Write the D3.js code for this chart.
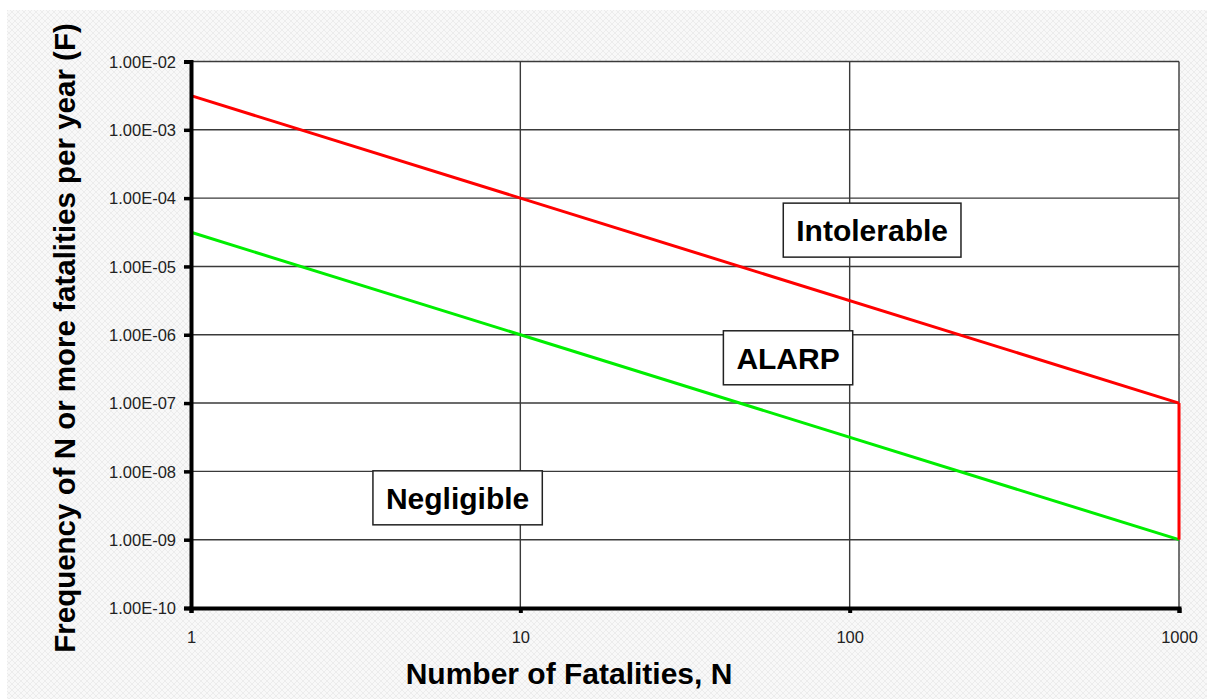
<!DOCTYPE html>
<html>
<head>
<meta charset="utf-8">
<script src="https://cdn.jsdelivr.net/npm/d3@7"></script>
<style>
  body { margin: 0; background: #fff; }
  svg { display: block; }
</style>
</head>
<body>
<div id="vis"></div>
<script>
/* data */
let xTicks = [1, 10, 100, 1000];
let yTicks = [1e-2, 1e-3, 1e-4, 1e-5, 1e-6, 1e-7, 1e-8, 1e-9, 1e-10];
let intolerable = [[1, 3.16e-3], [1000, 1e-7]];
let negligible = [[1, 3.16e-5], [1000, 1e-9]];
let endCap = [[1000, 1e-7], [1000, 1e-9]];
let regionLabels = [
  { text: "Intolerable", n: 117,  f: 3.4e-5 },
  { text: "ALARP",       n: 65,   f: 4.6e-7 },
  { text: "Negligible",  n: 6.45, f: 4.1e-9 },
];

/* geometry */
let width = 1207, height = 699;
let boundsX = [191, 1179];
let boundsY = [61.5, 608];
let font = "'Liberation Sans', Arial, sans-serif";

let x = d3.scaleLog().domain([1, 1000]).range(boundsX);
let y = d3.scaleLog().domain([1e-10, 1e-2]).range([boundsY[1], boundsY[0]]);

let svg = d3.select("#vis").append("svg")
  .attr("width", width)
  .attr("height", height);

/* crosshatch background */
let pat = svg.append("defs").append("pattern")
  .attr("id", "hatch")
  .attr("patternUnits", "userSpaceOnUse")
  .attr("width", 6).attr("height", 6);
pat.append("rect").attr("width", 6).attr("height", 6).attr("fill", "#f8f8f8");
pat.append("path")
  .attr("d", "M0,0L6,6M6,0L0,6")
  .attr("stroke", "#ececec")
  .attr("stroke-width", 1);

svg.append("rect")
  .attr("x", 7).attr("y", 10)
  .attr("width", width - 7).attr("height", height - 10)
  .attr("fill", "url(#hatch)");

/* plot area */
svg.append("rect")
  .attr("x", boundsX[0]).attr("y", boundsY[0])
  .attr("width", boundsX[1] - boundsX[0])
  .attr("height", boundsY[1] - boundsY[0])
  .attr("fill", "#fff");

/* grid */
let grid = svg.append("g")
  .attr("stroke", "#3a3a3a")
  .attr("stroke-width", 1.4);
yTicks.forEach(v => {
  grid.append("line")
    .attr("x1", boundsX[0]).attr("x2", boundsX[1])
    .attr("y1", y(v)).attr("y2", y(v));
});
xTicks.forEach(v => {
  grid.append("line")
    .attr("x1", x(v)).attr("x2", x(v))
    .attr("y1", boundsY[0]).attr("y2", boundsY[1]);
});

/* lines */
let line = d3.line().x(d => x(d[0])).y(d => y(d[1]));
svg.append("path")
  .attr("d", line(negligible))
  .attr("stroke", "#00ee00").attr("stroke-width", 3).attr("fill", "none");
svg.append("path")
  .attr("d", line(intolerable))
  .attr("stroke", "#ff0000").attr("stroke-width", 3).attr("fill", "none");
svg.append("path")
  .attr("d", line(endCap))
  .attr("stroke", "#ff0000").attr("stroke-width", 3).attr("fill", "none");

/* axes */
let yAxis = svg.append("g")
  .attr("transform", "translate(" + boundsX[0] + ",0)")
  .call(d3.axisLeft(y).tickValues(yTicks).tickSize(7).tickPadding(8)
    .tickFormat(v => v.toExponential(2).replace(/e([+-])(\d)$/, "e$10$2").toUpperCase()));
yAxis.select(".domain").attr("stroke", "#000").attr("stroke-width", 4);
yAxis.selectAll(".tick line").attr("stroke", "#000").attr("stroke-width", 3.5);
yAxis.selectAll("text")
  .attr("font-family", font).attr("font-size", 16.5).attr("fill", "#222")
  .attr("dy", "0.35em");

let xAxis = svg.append("g")
  .attr("transform", "translate(0," + boundsY[1] + ")")
  .call(d3.axisBottom(x).tickValues(xTicks).tickSize(5).tickPadding(18)
    .tickFormat(d3.format("d")));
xAxis.select(".domain").attr("stroke", "#000").attr("stroke-width", 4);
xAxis.selectAll(".tick line").attr("stroke", "#000").attr("stroke-width", 4);
xAxis.selectAll("text")
  .attr("font-family", font).attr("font-size", 16.5).attr("fill", "#222");

/* region labels */
let lbls = svg.append("g");
regionLabels.forEach(l => {
  let g = lbls.append("g").attr("transform", "translate(" + x(l.n) + "," + y(l.f) + ")");
  let t = g.append("text")
    .attr("font-family", font).attr("font-size", 30).attr("font-weight", "bold")
    .attr("text-anchor", "middle").attr("dy", "0.36em")
    .text(l.text);
  let w = t.node().getComputedTextLength();
  g.insert("rect", "text")
    .attr("x", -w / 2 - 13).attr("y", -27)
    .attr("width", w + 26).attr("height", 54)
    .attr("fill", "#fff").attr("stroke", "#222").attr("stroke-width", 1.5);
});

/* titles */
svg.append("text")
  .attr("font-family", font).attr("font-size", 29.5).attr("font-weight", "bold")
  .attr("text-anchor", "middle")
  .attr("transform", "translate(75,338) rotate(-90)")
  .text("Frequency of N or more fatalities per year (F)");
svg.append("text")
  .attr("font-family", font).attr("font-size", 30).attr("font-weight", "bold")
  .attr("text-anchor", "middle")
  .attr("x", 569).attr("y", 684)
  .text("Number of Fatalities, N");
</script>
</body>
</html>
